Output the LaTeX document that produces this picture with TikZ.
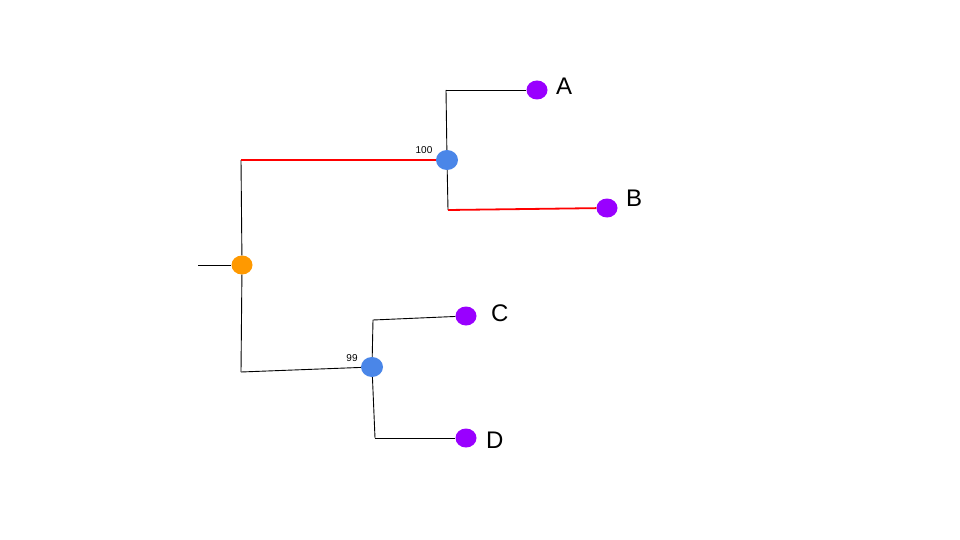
\documentclass[tikz,border=0pt]{standalone}
\usepackage{fontspec}
\setmainfont{Liberation Sans}
\usetikzlibrary{shapes.geometric}

\definecolor{rootorange}{HTML}{FF9900}
\definecolor{cladeblue}{HTML}{4A86E8}
\definecolor{tippurple}{HTML}{9900FF}

\begin{document}
\begin{tikzpicture}[
    x=1pt, y=-1pt,
    rootdot/.style={ellipse, fill=rootorange, minimum width=21pt, minimum height=19pt, inner sep=0pt},
    cladedot/.style={ellipse, fill=cladeblue, minimum width=22pt, minimum height=20pt, inner sep=0pt},
    tipdot/.style={ellipse, fill=tippurple, minimum width=21pt, minimum height=19pt, inner sep=0pt},
    taxon/.style={font=\fontsize{24}{28}\selectfont, anchor=west, inner sep=0pt},
    support/.style={font=\fontsize{10}{12}\selectfont, inner sep=0pt},
    branch/.style={black, line width=0.9pt},
    hilite/.style={red, line width=1.8pt}
]
\useasboundingbox (0,0) rectangle (960,540);

% Root
\coordinate (stub) at (198,265);
\node[rootdot] (root) at (242,265) {};
\coordinate (rtop) at (241,160);
\coordinate (rbot) at (241,372);

% Clade AB
\node[cladedot] (nAB) at (447,160) {};
\node[support] (sAB) at (424,150) {100};
\coordinate (abtop) at (446,90);
\coordinate (abbot) at (448,210);
\node[tipdot] (tA) at (537,90) {};
\node[tipdot] (tB) at (607,208) {};
\node[taxon] (lA) at (556,86) {A};
\node[taxon] (lB) at (626,198) {B};

% Clade CD
\node[cladedot] (nCD) at (372,367) {};
\node[support] (sCD) at (352,358) {99};
\coordinate (cdtop) at (373,320);
\coordinate (cdbot) at (375,438);
\node[tipdot] (tC) at (466,316) {};
\node[tipdot] (tD) at (466,438) {};
\node[taxon] (lC) at (491,313) {C};
\node[taxon] (lD) at (486,440) {D};

% Branches
\draw[branch] (stub) -- (root);
\draw[branch] (rtop) -- (root) -- (rbot);
\draw[hilite] (rtop) -- (nAB);
\draw[branch] (rbot) -- (nCD);
\draw[branch] (abtop) -- (nAB) -- (abbot);
\draw[branch] (abtop) -- (tA);
\draw[hilite] (abbot) -- (tB);
\draw[branch] (cdtop) -- (nCD) -- (cdbot);
\draw[branch] (cdtop) -- (tC);
\draw[branch] (cdbot) -- (tD);

\end{tikzpicture}
\end{document}
